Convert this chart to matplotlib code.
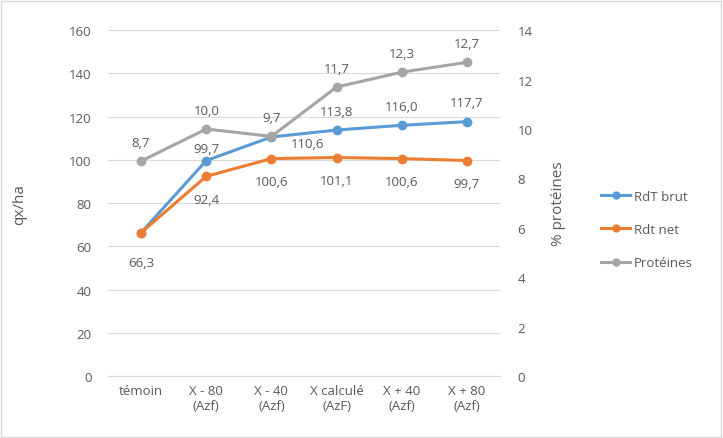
import matplotlib
matplotlib.use("Agg")
import matplotlib.pyplot as plt
from matplotlib.lines import Line2D

categories = ["témoin", "X - 80\n(Azf)", "X - 40\n(Azf)", "X calculé\n(AzF)", "X + 40\n(Azf)", "X + 80\n(Azf)"]
rdt_brut = [66.3, 99.7, 110.6, 113.8, 116.0, 117.7]
rdt_net = [66.3, 92.4, 100.6, 101.1, 100.6, 99.7]
proteines = [8.7, 10.0, 9.7, 11.7, 12.3, 12.7]

BLUE = "#5B9BD5"
ORANGE = "#ED7D31"
GRAY = "#A5A5A5"
TXT = "#595959"

plt.rcParams["font.family"] = ["Open Sans", "DejaVu Sans"]
plt.rcParams["font.size"] = 9.5

fig = plt.figure(figsize=(7.23, 4.39), dpi=100)
ax = fig.add_axes([0.150, 0.141, 0.541, 0.788])
ax2 = ax.twinx()

x = list(range(len(categories)))

ax.plot(x, rdt_brut, color=BLUE, lw=2.2, marker="o", ms=6, zorder=3)
ax.plot(x, rdt_net, color=ORANGE, lw=2.2, marker="o", ms=6, zorder=3)
ax2.plot(x, proteines, color=GRAY, lw=2.2, marker="o", ms=6, zorder=3)

ax.set_ylim(0, 160)
ax.set_yticks(range(0, 161, 20))
ax2.set_ylim(0, 14)
ax2.set_yticks(range(0, 15, 2))
ax.set_xlim(-0.5, len(categories) - 0.5)
ax.set_xticks(x)
ax.set_xticklabels(categories)

ax.grid(axis="y", color="#D9D9D9", lw=0.8)
ax.set_axisbelow(True)
for a in (ax, ax2):
    for s in a.spines.values():
        s.set_visible(False)
    a.tick_params(length=0, colors=TXT, labelsize=9.5)
ax.spines["bottom"].set_visible(True)
ax.spines["bottom"].set_color("#D9D9D9")
ax.tick_params(axis="y", pad=12)
ax2.tick_params(axis="y", pad=13)
ax.tick_params(axis="x", pad=6)

ax.set_ylabel("qx/ha", color=TXT, fontsize=11, labelpad=30)
ax2.set_ylabel("% protéines", color=TXT, fontsize=11, labelpad=13)

def fmt(v):
    return f"{v:.1f}".replace(".", ",")

# data labels
for i, v in enumerate(rdt_brut):
    if i == 0:
        continue
    if i == 2:
        ax.annotate(fmt(v), (i, v), xytext=(26, -5), textcoords="offset points",
                    ha="center", va="center", color=TXT, fontsize=9.5)
    elif i == 1:
        ax.annotate(fmt(v), (i, v), xytext=(0, 4), textcoords="offset points",
                    ha="center", va="bottom", color=TXT, fontsize=9.5)
    else:
        ax.annotate(fmt(v), (i, v), xytext=(0, 9), textcoords="offset points",
                    ha="center", va="bottom", color=TXT, fontsize=9.5)
for i, v in enumerate(rdt_net):
    off = -17 if i == 0 else -12
    ax.annotate(fmt(v), (i, v), xytext=(0, off), textcoords="offset points",
                ha="center", va="top", color=TXT, fontsize=9.5)
for i, v in enumerate(proteines):
    ax2.annotate(fmt(v), (i, v), xytext=(0, 9), textcoords="offset points",
                 ha="center", va="bottom", color=TXT, fontsize=9.5)

handles = [Line2D([], [], color=c, lw=2.2, marker="o", ms=5) for c in (BLUE, ORANGE, GRAY)]
fig.legend(handles, ["RdT brut", "Rdt net", "Protéines"], loc="center left",
           bbox_to_anchor=(0.815, 0.475), frameon=False, labelcolor=TXT,
           fontsize=9.5, labelspacing=1.55, handlelength=2.2, handletextpad=0.3)

fig.patches.append(plt.Rectangle((0.002, 0.003), 0.995, 0.993, transform=fig.transFigure,
                                 fill=False, edgecolor="#D9D9D9", lw=1))

fig.savefig("out.png", dpi=100)
